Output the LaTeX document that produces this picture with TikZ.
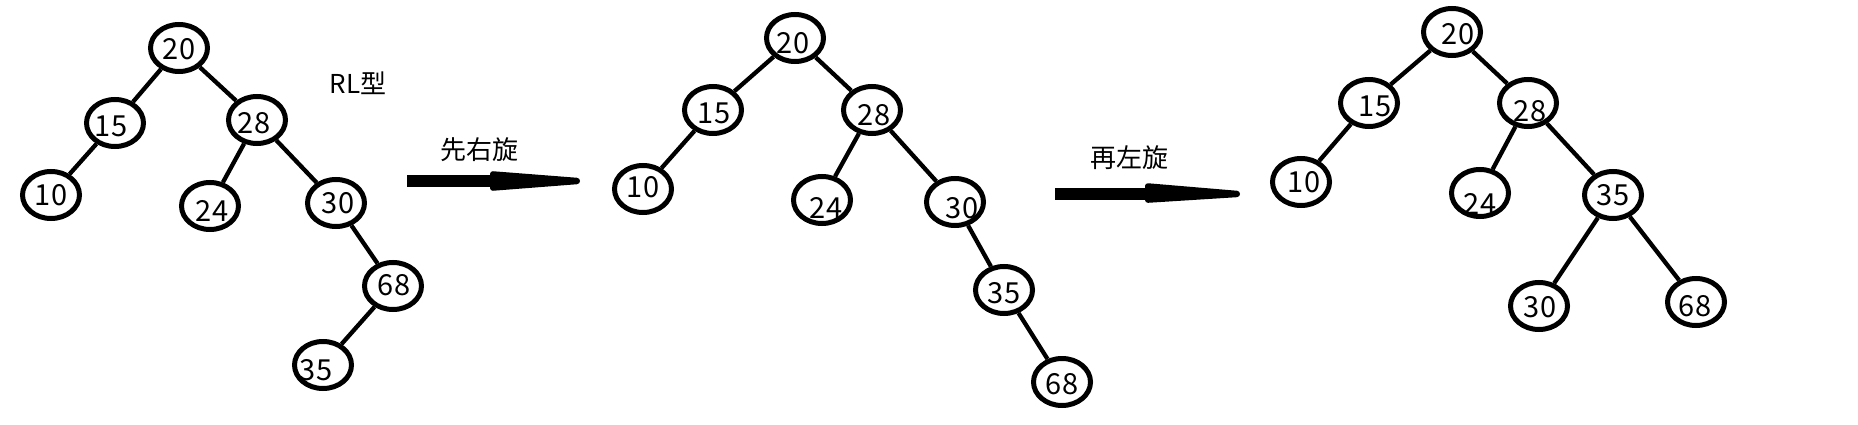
\documentclass[tikz,border=0pt]{standalone}
\usepackage{fontspec}
\newfontfamily\cjk{Noto Sans CJK SC}
\usetikzlibrary{shapes.geometric}
\newcommand{\tnode}[6]{%
  \node[tn] (#1) at (#2,#3) {};
  \node[tt] at ([shift={(#5,#6)}]#1.center) {#4};}
\begin{document}
\begin{tikzpicture}[x=1pt,y=-1pt,
  tn/.style={draw, ellipse, line width=5pt, minimum width=57pt, minimum height=47pt, inner sep=0pt},
  tt/.style={font=\cjk\fontsize{29}{29}\selectfont, inner sep=0pt},
  edge/.style={line width=4.3pt},
  lbl/.style={font=\cjk\fontsize{26}{26}\selectfont, inner sep=0pt},
  shaft/.style={line width=11.5pt}]
\useasboundingbox (0,0) rectangle (1858,425);
% tree 1
\tnode{a20}{179}{48}{20}{0}{1}
\tnode{a15}{115}{123}{15}{-4}{3}
\tnode{a10}{51}{195}{10}{0}{0}
\tnode{a28}{257}{120}{28}{-3}{3}
\tnode{a24}{210}{206}{24}{2}{5}
\tnode{a30}{336}{203}{30}{2}{0}
\tnode{a68}{393}{286}{68}{1}{-1}
\tnode{a35}{323}{365}{35}{-7}{5}
\draw[edge] (a20) -- (a15);
\draw[edge] (a20) -- (a28);
\draw[edge] (a15) -- (a10);
\draw[edge] (a28) -- (a24);
\draw[edge] (a28) -- (a30);
\draw[edge] (a30) -- (a68);
\draw[edge] (a68) -- (a35);
\node[lbl] (rl) at (358,83) {RL型};
% arrow 1
\node[lbl] (t1) at (479,150) {先右旋};
\coordinate (p1s) at (407,181);
\coordinate (p1e) at (580,181);
\draw[shaft] (p1s) -- ++(88,0);
\fill[rounded corners=3pt] (p1e) ++(0,-3) -- ++(-90,-7) -- ++(0,20) -- ++(90,-7) -- cycle;
% tree 2
\tnode{b20}{795}{38}{20}{-2}{5}
\tnode{b15}{713}{110}{15}{1}{3}
\tnode{b10}{643}{189}{10}{0}{-2}
\tnode{b28}{872}{110}{28}{2}{5}
\tnode{b24}{822}{200}{24}{4}{8}
\tnode{b30}{955}{202}{30}{7}{6}
\tnode{b35}{1004}{290}{35}{0}{3}
\tnode{b68}{1062}{382}{68}{0}{2}
\draw[edge] (b20) -- (b15);
\draw[edge] (b20) -- (b28);
\draw[edge] (b15) -- (b10);
\draw[edge] (b28) -- (b24);
\draw[edge] (b28) -- (b30);
\draw[edge] (b30) -- (b35);
\draw[edge] (b35) -- (b68);
% arrow 2
\node[lbl] (t2) at (1129,158) {再左旋};
\coordinate (p2s) at (1055,194);
\coordinate (p2e) at (1240,194);
\draw[shaft, line width=12pt] (p2s) -- ++(96,0);
\fill[rounded corners=3pt] (p2e) ++(0,-3) -- ++(-95,-8) -- ++(0,20) -- ++(95,-6) -- cycle;
% tree 3
\tnode{c20}{1452}{32}{20}{6}{2}
\tnode{c15}{1369}{103}{15}{6}{3}
\tnode{c10}{1301}{182}{10}{3}{0}
\tnode{c28}{1528}{103}{28}{2}{8}
\tnode{c24}{1480}{193}{24}{0}{11}
\tnode{c35}{1613}{195}{35}{0}{0}
\tnode{c30}{1539}{306}{30}{1}{1}
\tnode{c68}{1696}{302}{68}{-1}{4}
\draw[edge] (c20) -- (c15);
\draw[edge] (c20) -- (c28);
\draw[edge] (c15) -- (c10);
\draw[edge] (c28) -- (c24);
\draw[edge] (c28) -- (c35);
\draw[edge] (c35) -- (c30);
\draw[edge] (c35) -- (c68);
\end{tikzpicture}
\end{document}
